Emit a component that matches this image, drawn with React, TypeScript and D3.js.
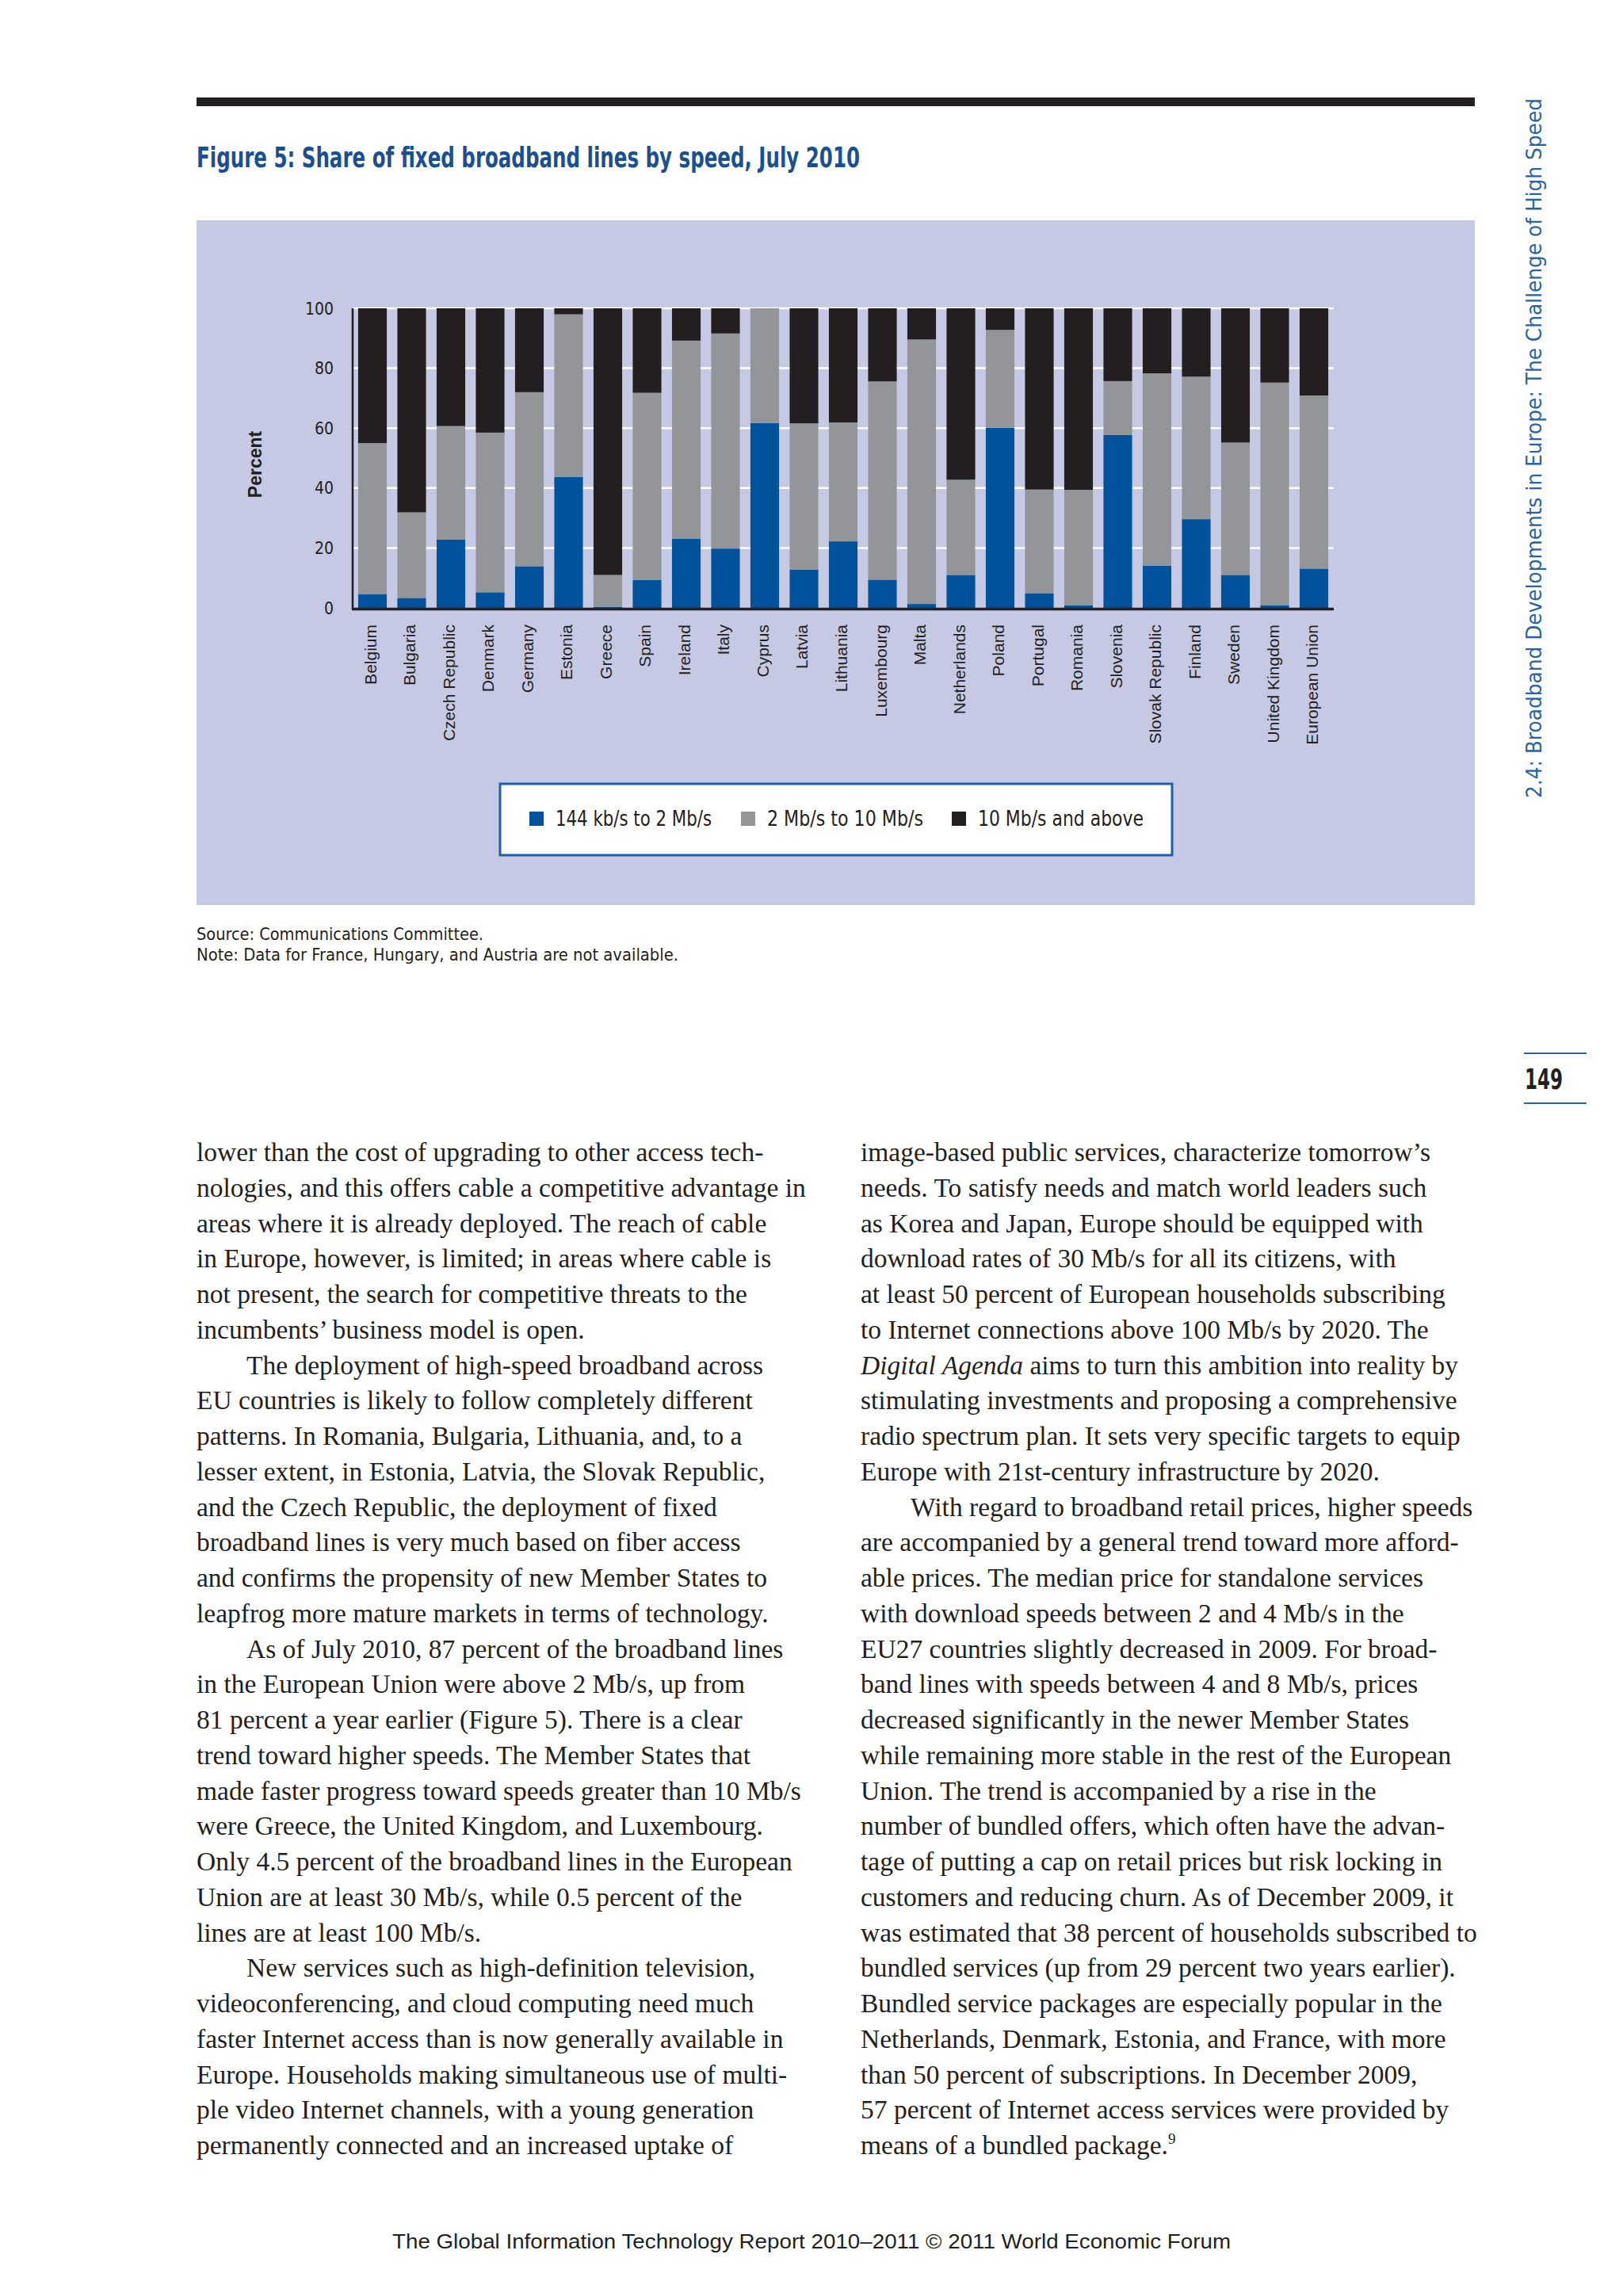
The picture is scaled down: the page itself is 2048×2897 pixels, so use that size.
import React from 'react';
import * as d3 from 'd3';

const countries = ['Belgium','Bulgaria','Czech Republic','Denmark','Germany','Estonia','Greece','Spain','Ireland','Italy','Cyprus','Latvia','Lithuania','Luxembourg','Malta','Netherlands','Poland','Portugal','Romania','Slovenia','Slovak Republic','Finland','Sweden','United Kingdom','European Union'];
const slowShare = [4.6,3.3,22.8,5.2,13.9,43.7,0.3,9.3,23.1,19.8,61.7,12.8,22.2,9.4,1.3,11.0,60.1,4.9,0.9,57.7,14.1,29.6,11.0,0.9,13.1];
const mediumShare = [50.4,28.6,37.9,53.3,58.1,54.3,10.7,62.5,66.1,71.8,38.3,48.8,39.7,66.2,88.3,31.8,32.7,34.6,38.5,18.0,64.2,47.6,44.2,74.3,57.8];
const fastShare = [45.0,68.1,39.3,41.5,28.0,2.0,89.0,28.2,10.8,8.4,0.0,38.4,38.1,24.4,10.4,57.2,7.2,60.5,60.6,24.3,21.7,22.8,44.8,24.8,29.1];
const seriesKeys = ['slow','medium','fast'];
const seriesLabels = ['144 kb/s to 2 Mb/s','2 Mb/s to 10 Mb/s','10 Mb/s and above'];
const seriesColors = ['#00529b','#939598','#231f20'];
const yTicks = [0,20,40,60,80,100];

const leftColumn = [
  'lower than the cost of upgrading to other access tech-',
  'nologies, and this offers cable a competitive advantage in',
  'areas where it is already deployed. The reach of cable',
  'in Europe, however, is limited; in areas where cable is',
  'not present, the search for competitive threats to the',
  'incumbents\u2019 business model is open.',
  '\tThe deployment of high-speed broadband across',
  'EU countries is likely to follow completely different',
  'patterns. In Romania, Bulgaria, Lithuania, and, to a',
  'lesser extent, in Estonia, Latvia, the Slovak Republic,',
  'and the Czech Republic, the deployment of fixed',
  'broadband lines is very much based on fiber access',
  'and confirms the propensity of new Member States to',
  'leapfrog more mature markets in terms of technology.',
  '\tAs of July 2010, 87 percent of the broadband lines',
  'in the European Union were above 2 Mb/s, up from',
  '81 percent a year earlier (Figure 5). There is a clear',
  'trend toward higher speeds. The Member States that',
  'made faster progress toward speeds greater than 10 Mb/s',
  'were Greece, the United Kingdom, and Luxembourg.',
  'Only 4.5 percent of the broadband lines in the European',
  'Union are at least 30 Mb/s, while 0.5 percent of the',
  'lines are at least 100 Mb/s.',
  '\tNew services such as high-definition television,',
  'videoconferencing, and cloud computing need much',
  'faster Internet access than is now generally available in',
  'Europe. Households making simultaneous use of multi-',
  'ple video Internet channels, with a young generation',
  'permanently connected and an increased uptake of',
];

const rightColumn = [
  'image-based public services, characterize tomorrow\u2019s',
  'needs. To satisfy needs and match world leaders such',
  'as Korea and Japan, Europe should be equipped with',
  'download rates of 30 Mb/s for all its citizens, with',
  'at least 50 percent of European households subscribing',
  'to Internet connections above 100 Mb/s by 2020. The',
  '*Digital Agenda* aims to turn this ambition into reality by',
  'stimulating investments and proposing a comprehensive',
  'radio spectrum plan. It sets very specific targets to equip',
  'Europe with 21st-century infrastructure by 2020.',
  '\tWith regard to broadband retail prices, higher speeds',
  'are accompanied by a general trend toward more afford-',
  'able prices. The median price for standalone services',
  'with download speeds between 2 and 4 Mb/s in the',
  'EU27 countries slightly decreased in 2009. For broad-',
  'band lines with speeds between 4 and 8 Mb/s, prices',
  'decreased significantly in the newer Member States',
  'while remaining more stable in the rest of the European',
  'Union. The trend is accompanied by a rise in the',
  'number of bundled offers, which often have the advan-',
  'tage of putting a cap on retail prices but risk locking in',
  'customers and reducing churn. As of December 2009, it',
  'was estimated that 38 percent of households subscribed to',
  'bundled services (up from 29 percent two years earlier).',
  'Bundled service packages are especially popular in the',
  'Netherlands, Denmark, Estonia, and France, with more',
  'than 50 percent of subscriptions. In December 2009,',
  '57 percent of Internet access services were provided by',
  'means of a bundled package.^9',
];

const footerText = 'The Global Information Technology Report 2010\u20132011 \u00a9 2011 World Economic Forum';

const NARROW = "'Liberation Sans Narrow', 'Arial Narrow', 'DejaVu Sans Condensed', sans-serif";
const SANS = "'Liberation Sans', Arial, sans-serif";
const SERIF = "'Liberation Serif', 'Times New Roman', serif";

function BodyLine({ text, x, y }: { text: string; x: number; y: number }) {
  let t = text;
  let dx = x;
  if (t.startsWith('\t')) { t = t.slice(1); dx = x + 63; }
  const parts: React.ReactNode[] = [];
  const italicMatch = t.match(/^\*(.+?)\*(.*)$/);
  if (italicMatch) {
    parts.push(<tspan key="i" fontStyle="italic">{italicMatch[1]}</tspan>);
    parts.push(<tspan key="r">{italicMatch[2]}</tspan>);
  } else if (t.includes('^')) {
    const [a, b] = t.split('^');
    parts.push(<tspan key="a">{a}</tspan>);
    parts.push(<tspan key="s" fontSize={19} dy={-13}>{b}</tspan>);
  } else {
    parts.push(t);
  }
  return (
    <text x={dx} y={y} fontFamily={SERIF} fontSize={33.5} fill="#231f20">{parts}</text>
  );
}

export default function App() {
  const data = countries.map((c, i) => ({ country: c, slow: slowShare[i], medium: mediumShare[i], fast: fastShare[i] }));
  const stack = d3.stack<any>().keys(seriesKeys);
  const stacked = stack(data);

  const x = d3.scaleBand<string>().domain(countries).range([445, 1683]).paddingInner(0.27).paddingOuter(0.14);
  const y = d3.scaleLinear().domain([0, 100]).range([767, 389]);

  const lineH = 44.75;
  const bodyTop = 1465;

  const legendItems = [
    { sq: 668, tx: 701, w: 197 },
    { sq: 935, tx: 968, w: 197 },
    { sq: 1201, tx: 1234, w: 209 },
  ];

  return (
    <svg width={2048} height={2897} viewBox="0 0 2048 2897" style={{ position: 'absolute', left: 0, top: 0, background: '#ffffff' }}>
      <rect x={0} y={0} width={2048} height={2897} fill="#ffffff" />
      {/* top rule */}
      <rect x={248} y={123} width={1613} height={11} fill="#231f20" />
      {/* title */}
      <text x={248} y={211} fontFamily={NARROW} fontWeight="bold" fontSize={35} fill="#1a4f91" textLength={837} lengthAdjust="spacingAndGlyphs">
        Figure 5: Share of fixed broadband lines by speed, July 2010
      </text>
      {/* panel */}
      <rect x={248} y={278} width={1613} height={864} fill="#c5c9e3" />

      {/* gridlines */}
      {yTicks.filter(t => t > 0).map(t => (
        <line key={t} x1={445} x2={1683} y1={y(t)} y2={y(t)} stroke="#ffffff" strokeWidth={2.5} />
      ))}
      {/* bars */}
      {stacked.map((s, si) => (
        <g key={s.key} fill={seriesColors[si]}>
          {s.map((d, i) => (
            <rect key={i} x={x(countries[i])} width={x.bandwidth()} y={y(d[1])} height={Math.max(0, y(d[0]) - y(d[1]))} />
          ))}
        </g>
      ))}
      {/* axes */}
      <line x1={445} x2={445} y1={y(100)} y2={769} stroke="#231f20" strokeWidth={2.5} />
      <line x1={444} x2={1683} y1={768.5} y2={768.5} stroke="#231f20" strokeWidth={3.5} />
      {yTicks.map(t => (
        <text key={t} x={421} y={y(t)} dy="0.36em" textAnchor="end" fontFamily={NARROW} fontSize={21} fill="#231f20">{t}</text>
      ))}
      <text transform={`translate(330,586) rotate(-90)`} textAnchor="middle" fontFamily={SANS} fontWeight="bold" fontSize={23} fill="#231f20">Percent</text>
      {/* country labels */}
      {countries.map(c => (
        <text key={c} transform={`translate(${(x(c) as number) + x.bandwidth() / 2 + 5},788) rotate(-90)`} textAnchor="end" fontFamily={SANS} fontSize={21} fill="#231f20">{c}</text>
      ))}
      {/* legend */}
      <rect x={631} y={989} width={848} height={90} fill="#ffffff" stroke="#1f5ea8" strokeWidth={3} />
      {seriesLabels.map((lab, i) => (
        <g key={lab}>
          <rect x={legendItems[i].sq} y={1024} width={18} height={18} fill={seriesColors[i]} />
          <text x={legendItems[i].tx} y={1042} fontFamily={NARROW} fontSize={26} fill="#231f20" textLength={legendItems[i].w} lengthAdjust="spacingAndGlyphs">{lab}</text>
        </g>
      ))}

      {/* source notes */}
      <text x={248} y={1186} fontFamily={NARROW} fontSize={21} fill="#231f20" textLength={362} lengthAdjust="spacingAndGlyphs">Source: Communications Committee.</text>
      <text x={248} y={1212} fontFamily={NARROW} fontSize={21} fill="#231f20" textLength={608} lengthAdjust="spacingAndGlyphs">Note: Data for France, Hungary, and Austria are not available.</text>

      {/* running header */}
      <text transform="translate(1945,1007) rotate(-90)" fontFamily={NARROW} fontSize={26} fill="#2a64a3" textLength={883} lengthAdjust="spacingAndGlyphs">2.4: Broadband Developments in Europe: The Challenge of High Speed</text>

      {/* page number */}
      <line x1={1923} x2={2002} y1={1329} y2={1329} stroke="#2f6499" strokeWidth={2} />
      <text x={1924} y={1374} fontFamily={NARROW} fontWeight="bold" fontSize={36} fill="#231f20" textLength={48} lengthAdjust="spacingAndGlyphs">149</text>
      <line x1={1923} x2={2002} y1={1392} y2={1392} stroke="#2f6499" strokeWidth={2} />

      {/* body text */}
      {leftColumn.map((l, i) => (
        <BodyLine key={'l' + i} text={l} x={248} y={bodyTop + i * lineH} />
      ))}
      {rightColumn.map((l, i) => (
        <BodyLine key={'r' + i} text={l} x={1086} y={bodyTop + i * lineH} />
      ))}

      {/* footer */}
      <text x={495} y={2837} fontFamily={SANS} fontSize={26} fill="#231f20" textLength={1058} lengthAdjust="spacingAndGlyphs">{footerText}</text>
    </svg>
  );
}
